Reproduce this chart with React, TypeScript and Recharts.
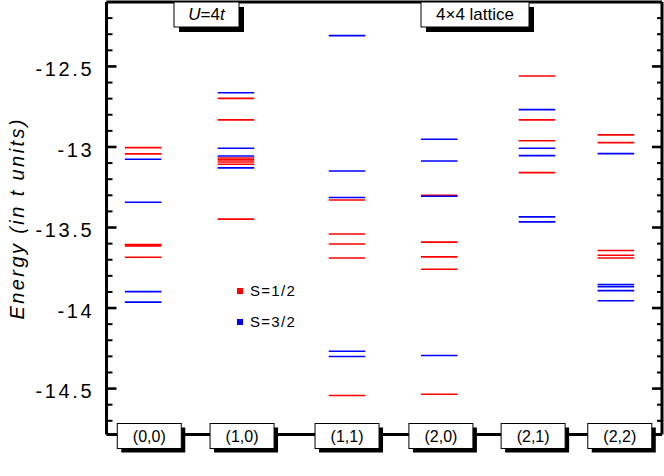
import React from "react"
import { ScatterChart, Scatter, XAxis, YAxis, Legend } from "recharts"

const FONT = "'Liberation Sans', Arial, Helvetica, sans-serif"

// momentum points along the bottom axis
const kPoints = ["(0,0)", "(1,0)", "(1,1)", "(2,0)", "(2,1)", "(2,2)"]
// horizontal place (0-100) of each stack of levels and of each label box
const levelPos = [6.6, 23.3, 43.3, 59.9, 77.5, 91.7]
const labelPos = [7.7, 24.4, 43.3, 60.2, 76.8, 92.4]

// S=1/2 energies, one list per k point
const spinHalf = [
  [-13.004, -13.043, -13.606, -13.614, -13.685],
  [-12.698, -12.832, -13.068, -13.08, -13.093, -13.107, -13.448],
  [-13.329, -13.54, -13.602, -13.689, -14.543],
  [-13.3, -13.591, -13.682, -13.759, -14.535],
  [-12.559, -12.832, -12.961, -13.159],
  [-12.925, -12.973, -13.643, -13.672, -13.689],
]

// S=3/2 energies, one list per k point
const spinThreeHalves = [
  [-13.076, -13.343, -13.898, -13.963],
  [-12.663, -13.008, -13.056, -13.13],
  [-12.309, -13.149, -13.314, -14.268, -14.301],
  [-12.952, -13.087, -13.306, -14.295],
  [-12.768, -13.008, -13.054, -13.434, -13.465],
  [-13.041, -13.854, -13.867, -13.892, -13.955],
]

const yTicks = [
  -14.7, -14.6, -14.5, -14.4, -14.3, -14.2, -14.1, -14, -13.9, -13.8, -13.7, -13.6, -13.5, -13.4,
  -13.3, -13.2, -13.1, -13, -12.9, -12.8, -12.7, -12.6, -12.5, -12.4, -12.3, -12.2, -12.1,
]
const yLabels = [-14.5, -14, -13.5, -13, -12.5]

const toPoints = (lists: number[][]) =>
  lists.flatMap((levels, i) => levels.map((e) => ({ x: levelPos[i], y: e })))

const halfData = toPoints(spinHalf)
const threeHalfData = toPoints(spinThreeHalves)

const levelShape = (color: string) => (props: any) => {
  const { cx, cy } = props
  return <line x1={cx - 18.3} x2={cx + 18.3} y1={cy} y2={cy} stroke={color} strokeWidth={1.6} />
}

const LeftTick = (props: any) => {
  const { x, y, payload } = props
  const major = yLabels.includes(payload.value)
  return (
    <g>
      <line x1={x} x2={x + (major ? 10 : 6)} y1={y} y2={y} stroke="#000" strokeWidth={major ? 2.6 : 2} />
      {major && (
        <text
          x={x - 12.3}
          y={y + 9.6}
          textAnchor="end"
          fontFamily={FONT}
          fontSize={20}
          letterSpacing={2.6}
          fill="#000"
        >
          {String(payload.value)}
        </text>
      )}
    </g>
  )
}

const RightTick = (props: any) => {
  const { x, y, payload } = props
  const major = yLabels.includes(payload.value)
  return <line x1={x} x2={x - (major ? 10 : 5)} y1={y} y2={y} stroke="#000" strokeWidth={major ? 2.6 : 2} />
}

const KTick = (props: any) => {
  const { x, y, payload } = props
  const idx = labelPos.indexOf(payload.value)
  return (
    <g>
      <rect x={x - 32} y={y - 11} width={64} height={25} fill="#000" transform="translate(4,4)" />
      <rect x={x - 32} y={y - 11} width={64} height={25} fill="#fff" stroke="#000" strokeWidth={1} />
      <text x={x} y={y + 7.5} textAnchor="middle" fontFamily={FONT} fontSize={16} fill="#000">
        {kPoints[idx]}
      </text>
    </g>
  )
}

const YTitle = (props: any) => {
  const vb = props.viewBox
  const cy = vb.y + vb.height / 2
  return (
    <text
      x={24}
      y={cy}
      transform={`rotate(-90, 24, ${cy})`}
      textAnchor="middle"
      fontFamily={FONT}
      fontStyle="italic"
      fontSize={20}
      letterSpacing={2.4}
      fill="#000"
    >
      Energy (in t units)
    </text>
  )
}

const Note = ({ x, y, w, children }: any) => (
  <g>
    <rect x={x + 5} y={y + 5} width={w} height={25} fill="#000" />
    <rect x={x} y={y} width={w} height={25} fill="#fff" stroke="#000" strokeWidth={1} />
    <text x={x + w / 2} y={y + 18} textAnchor="middle" fontFamily={FONT} fontSize={17} fill="#000">
      {children}
    </text>
  </g>
)

const TopNotes = (props: any) => {
  const vb = props.viewBox
  const top = vb.y + vb.height
  return (
    <g>
      <Note x={vb.x + 67.5} y={top} w={65}>
        <tspan fontStyle="italic">U</tspan>=4<tspan fontStyle="italic">t</tspan>
      </Note>
      <Note x={vb.x + 314.5} y={top} w={108}>
        4×4 lattice
      </Note>
    </g>
  )
}

const LegendBox = (props: any) => {
  const items = props.payload || []
  return (
    <div style={{ fontFamily: FONT, fontSize: 15, letterSpacing: 1.3, color: "#000" }}>
      {items.map((it: any) => (
        <div key={it.value} style={{ display: "flex", alignItems: "center", height: 31 }}>
          <span style={{ display: "inline-block", width: 6, height: 6, background: it.color, marginRight: 7 }} />
          <span>{it.value}</span>
        </div>
      ))}
    </div>
  )
}

export default function App() {
  return (
    <div style={{ position: "absolute", left: 0, top: 0, background: "#fff" }}>
      <ScatterChart width={664} height={476} margin={{ top: 1, right: 1, bottom: 0, left: 0 }}>
        <XAxis
          type="number"
          dataKey="x"
          domain={[0, 100]}
          allowDataOverflow
          ticks={labelPos}
          interval={0}
          height={41.5}
          tickSize={0}
          tickMargin={0}
          tick={<KTick />}
          axisLine={{ stroke: "#000", strokeWidth: 3 }}
          tickLine={false}
        />
        <XAxis
          xAxisId="top"
          orientation="top"
          type="number"
          domain={[0, 100]}
          allowDataOverflow
          height={1}
          tick={false}
          tickLine={false}
          axisLine={{ stroke: "#000", strokeWidth: 3 }}
          label={<TopNotes />}
        />
        <YAxis
          type="number"
          dataKey="y"
          domain={[-14.785, -12.1]}
          allowDataOverflow
          ticks={yTicks}
          interval={0}
          width={106.5}
          tickSize={0}
          tickMargin={0}
          tick={<LeftTick />}
          tickLine={false}
          axisLine={{ stroke: "#000", strokeWidth: 3 }}
          label={<YTitle />}
        />
        <YAxis
          yAxisId="right"
          orientation="right"
          type="number"
          domain={[-14.785, -12.1]}
          allowDataOverflow
          ticks={yTicks}
          interval={0}
          width={1}
          tickSize={0}
          tickMargin={0}
          tick={<RightTick />}
          tickLine={false}
          axisLine={{ stroke: "#000", strokeWidth: 3 }}
        />
        <Legend
          layout="horizontal"
          verticalAlign="middle"
          align="center"
          wrapperStyle={{ left: 237, top: 275, width: 100 }}
          content={<LegendBox />}
        />
        <Scatter
          name="S=1/2"
          data={halfData}
          fill="#ff0000"
          shape={levelShape("#ff0000")}
          isAnimationActive={false}
        />
        <Scatter
          name="S=3/2"
          data={threeHalfData}
          fill="#0000ff"
          shape={levelShape("#0000ff")}
          isAnimationActive={false}
        />
      </ScatterChart>
    </div>
  )
}
